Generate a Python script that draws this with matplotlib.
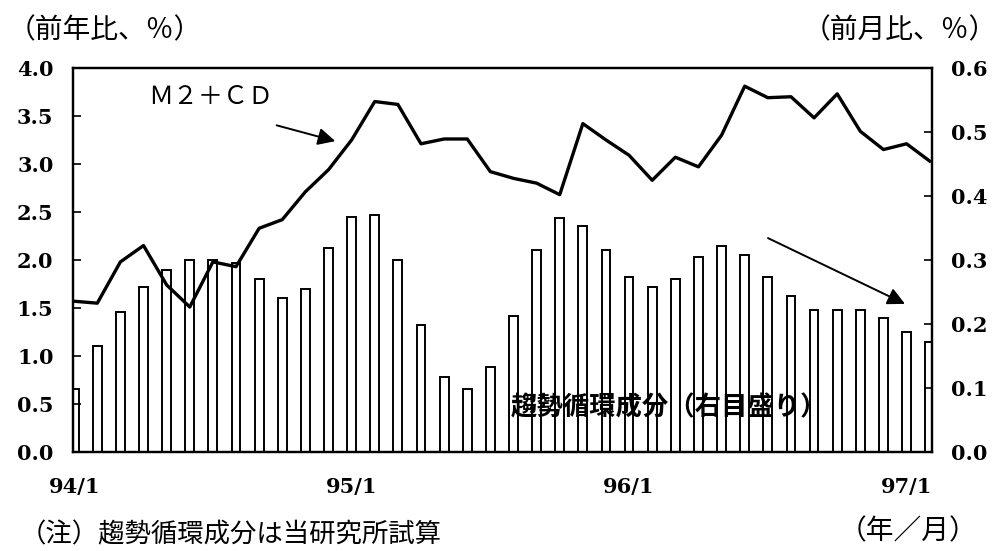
import matplotlib
matplotlib.use("Agg")
import matplotlib.pyplot as plt
import numpy as np

# Months 94/1 .. 97/2
months = [f"{y}/{m}" for y in (94, 95, 96, 97) for m in range(1, 13)][:38]
tick_labels = ["94/1", "95/1", "96/1", "97/1"]

# M2+CD, year-on-year % (left axis)
m2cd = [1.57, 1.55, 1.98, 2.15, 1.74, 1.51, 1.98, 1.93, 2.33, 2.42, 2.71, 2.94,
        3.25, 3.65, 3.62, 3.21, 3.26, 3.26, 2.92, 2.85, 2.80, 2.68, 3.42, 3.25,
        3.09, 2.83, 3.07, 2.97, 3.30, 3.81, 3.69, 3.70, 3.48, 3.73, 3.34, 3.15,
        3.21, 3.03]

# Trend-cycle component, month-on-month % (right axis)
trend = [0.098, 0.165, 0.218, 0.258, 0.285, 0.300, 0.300, 0.295, 0.270, 0.240,
         0.255, 0.318, 0.367, 0.370, 0.300, 0.198, 0.117, 0.098, 0.132, 0.213,
         0.315, 0.365, 0.353, 0.315, 0.273, 0.258, 0.270, 0.305, 0.322, 0.307,
         0.273, 0.243, 0.222, 0.222, 0.222, 0.210, 0.187, 0.172]

plt.rcParams['font.family'] = ['Noto Sans CJK JP', 'DejaVu Sans']
numfont = dict(family='DejaVu Serif', weight='bold', size=15)

fig = plt.figure(figsize=(10, 5.51), dpi=100)
ax = fig.add_axes([0.073, 0.1797, 0.859, 0.697])
ax2 = ax.twinx()
ax.set_zorder(ax2.get_zorder() + 1)
ax.patch.set_visible(False)

x = np.arange(len(months))
ax2.bar(x, trend, width=0.38, facecolor='white', edgecolor='black', linewidth=1.4)
ax.plot(x, m2cd, color='black', linewidth=2.4)

ax.set_xlim(-0.05, 37.1)
ax.set_ylim(0, 4.0)
ax2.set_ylim(0, 0.6)

ax.set_yticks(np.arange(0, 4.01, 0.5))
ax.set_yticklabels([f"{v:.1f}" for v in np.arange(0, 4.01, 0.5)], fontdict=numfont)
ax2.set_yticks(np.arange(0, 0.61, 0.1))
ax2.set_yticklabels([f"{v:.1f}" for v in np.arange(0, 0.61, 0.1)], fontdict=numfont)
ax.set_xticks([months.index(t) for t in tick_labels])
ax.set_xticklabels(tick_labels, fontdict=numfont)

ax.tick_params(axis='y', direction='in', length=6, width=1.2, pad=14)
ax2.tick_params(axis='y', direction='in', length=6, width=1.2, pad=14)
ax.tick_params(axis='x', length=0, pad=18)
for a in (ax, ax2):
    for s in a.spines.values():
        s.set_linewidth(1.6)

ax.text(5.92, 3.70, "Ｍ２＋ＣＤ", fontsize=18, ha='center', va='center')
ax.annotate("", xy=(11.41, 3.23), xytext=(8.64, 3.41),
            arrowprops=dict(arrowstyle='-|>', color='black', lw=1.4,
                            mutation_scale=26))
ax.annotate("", xy=(36.04, 1.53), xytext=(29.9, 2.24),
            arrowprops=dict(arrowstyle='-|>', color='black', lw=1.4,
                            mutation_scale=26))
ax.text(18.9, 0.46, "趨勢循環成分（右目盛り）", fontsize=19, fontweight='bold',
        ha='left', va='center')

fig.text(0.008, 0.945, "（前年比、％）", fontsize=20, ha='left', va='center')
fig.text(0.997, 0.945, "（前月比、％）", fontsize=20, ha='right', va='center')
fig.text(0.977, 0.035, "（年／月）", fontsize=20, ha='right', va='center')
fig.text(0.02, 0.004, "（注）趨勢循環成分は当研究所試算", fontsize=19, ha='left', va='bottom')

fig.savefig("out.png", dpi=100)
